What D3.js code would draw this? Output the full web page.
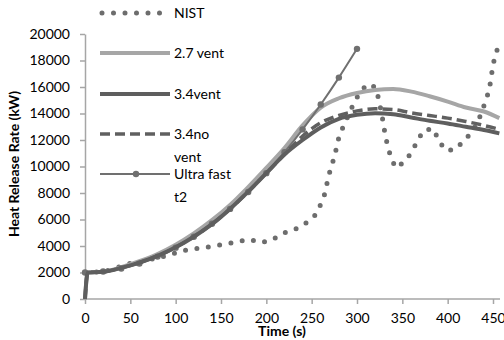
<!DOCTYPE html>
<html>
<head>
<meta charset="utf-8">
<script src="https://cdn.jsdelivr.net/npm/d3@7"></script>
<style>
  body { margin: 0; background: #fff; }
  text { font-family: Lato, "Open Sans", sans-serif; fill: #000; }
</style>
</head>
<body>
<svg id="chart" width="504" height="340"></svg>
<script>
// values (time in s, HRR in kW)
const nistT = [0, 14, 26, 39, 52, 65, 78, 90, 103, 116, 129, 142, 156, 169, 181, 194, 206, 218, 230, 242, 253, 259,
  264, 267, 270, 274, 277, 280, 285, 296, 302, 311, 320, 324, 329, 331, 334, 338, 343, 353, 361, 367, 374,
  384, 390, 397, 407, 417, 426, 433, 442, 446, 448, 450, 453, 457];
const nistHRR = [2000, 2050, 2150, 2450, 2750, 2850, 3100, 3250, 3550, 3750, 3850, 4000, 4150, 4350, 4500, 4250, 4450, 4950, 5200, 5650, 6250, 7000,
  7850, 8750, 9600, 10500, 11300, 12200, 13050, 14700, 15450, 16200, 16000, 15100, 13300, 12400, 11500, 10550, 9900, 10400, 11150, 12000, 12750,
  12850, 12000, 11250, 11250, 11850, 12550, 13300, 14950, 15850, 16750, 17650, 18550, 19200];

const fdsT = [0, 3, 20, 40, 60, 80, 100, 120, 140, 160, 180, 200, 220, 240, 260, 280, 300, 320, 340, 360, 380, 400, 420, 440, 457];
const vent27 = [0, 2000, 2060, 2400, 2850, 3400, 4100, 4950, 5950, 7100, 8450, 9900, 11400, 13100, 14450, 15150, 15550, 15780, 15850, 15650, 15300, 14900, 14450, 14150, 13650];
const vent34 = [0, 2000, 2050, 2350, 2750, 3250, 3900, 4700, 5650, 6800, 8100, 9500, 10900, 12000, 12950, 13600, 13900, 14020, 13950, 13700, 13450, 13250, 13000, 12750, 12500];
const noVent34 = [0, 2000, 2050, 2350, 2750, 3250, 3900, 4700, 5650, 6800, 8100, 9500, 10900, 12300, 13300, 13850, 14200, 14350, 14300, 14050, 13850, 13650, 13400, 13100, 12800];

const ultraT = [0, 20, 40, 60, 80, 100, 120, 140, 160, 180, 200, 220, 240, 260, 280, 300];
const ultraHRR = [2000, 2075, 2300, 2675, 3200, 3875, 4700, 5675, 6800, 8080, 9500, 11080, 12800, 14680, 16710, 18880];

const xTicks = [0, 50, 100, 150, 200, 250, 300, 350, 400, 450];
const yTicks = [0, 2000, 4000, 6000, 8000, 10000, 12000, 14000, 16000, 18000, 20000];

const svg = d3.select("#chart");
const x = d3.scaleLinear().domain([0, 450]).range([85, 493]);
const y = d3.scaleLinear().domain([0, 20000]).range([299, 34]);
const axisColor = "#a6a6a6";

svg.append("defs").append("clipPath").attr("id", "plot")
  .append("rect").attr("x", 80).attr("y", 0).attr("width", 424).attr("height", 305);

// axes
const yAxis = svg.append("g").attr("transform", "translate(85,0)")
  .call(d3.axisLeft(y).tickValues(yTicks).tickFormat(d3.format("d")).tickSize(5).tickSizeOuter(0).tickPadding(10));
const xAxis = svg.append("g").attr("transform", "translate(0,299)")
  .call(d3.axisBottom(x).tickValues(xTicks).tickFormat(d3.format("d")).tickSize(5).tickSizeOuter(0).tickPadding(9));
xAxis.select(".domain").attr("d", "M85,0H500");
[xAxis, yAxis].forEach((g) => {
  g.selectAll("path, line").attr("stroke", axisColor).attr("stroke-width", 1.5);
  g.selectAll("text").style("font-size", "14px").attr("fill", "#000");
});

svg.append("text").attr("x", 282).attr("y", 336).attr("text-anchor", "middle")
  .style("font-size", "14px").style("font-weight", "bold").text("Time (s)");
svg.append("text").attr("transform", "translate(19,164) rotate(-90)").attr("text-anchor", "middle")
  .style("font-size", "14px").style("font-weight", "bold").text("Heat Release Rate (kW)");

// series
const series = [
  { name: ["NIST"], t: nistT, v: nistHRR, color: "#6d6d6d", width: 5, dash: "0,11.5", cap: "round", curve: d3.curveLinear },
  { name: ["2.7 vent"], t: fdsT, v: vent27, color: "#a6a6a6", width: 4, dash: null, cap: "butt", curve: d3.curveMonotoneX },
  { name: ["3.4vent"], t: fdsT, v: vent34, color: "#5e5e5e", width: 4, dash: null, cap: "butt", curve: d3.curveMonotoneX },
  { name: ["3.4no", "vent"], t: fdsT, v: noVent34, color: "#606060", width: 3.5, dash: "10,5", cap: "butt", curve: d3.curveMonotoneX },
  { name: ["Ultra fast", "t2"], t: ultraT, v: ultraHRR, color: "#707070", width: 2, dash: null, cap: "butt", curve: d3.curveMonotoneX, markers: true },
];

const plot = svg.append("g").attr("clip-path", "url(#plot)");
const drawOrder = [0, 1, 4, 3, 2];
drawOrder.forEach((i) => {
  const s = series[i];
  const line = d3.line().x((d) => x(d[0])).y((d) => y(d[1])).curve(s.curve);
  const pts = s.t.map((t, k) => [t, s.v[k]]);
  plot.append("path").attr("d", line(pts)).attr("fill", "none")
    .attr("stroke", s.color).attr("stroke-width", s.width)
    .attr("stroke-dasharray", s.dash).attr("stroke-linecap", s.cap);
  if (s.markers) {
    plot.selectAll(null).data(pts).enter().append("circle")
      .attr("cx", (d) => x(d[0])).attr("cy", (d) => y(d[1])).attr("r", 3.2).attr("fill", s.color);
  }
});

// legend
const legendY = [13, 53, 94, 134, 174];
series.forEach((s, i) => {
  const g = svg.append("g");
  g.append("line").attr("x1", s.cap === "round" ? 102 : 100).attr("x2", 170)
    .attr("y1", legendY[i]).attr("y2", legendY[i])
    .attr("stroke", s.color).attr("stroke-width", s.width)
    .attr("stroke-dasharray", s.dash).attr("stroke-linecap", s.cap);
  if (s.markers) {
    g.append("circle").attr("cx", 136).attr("cy", legendY[i]).attr("r", 3.2).attr("fill", s.color);
  }
  s.name.forEach((n, k) => {
    g.append("text").attr("x", 174).attr("y", legendY[i] + 5 + k * 23)
      .style("font-size", "14px").text(n);
  });
});
</script>
</body>
</html>
